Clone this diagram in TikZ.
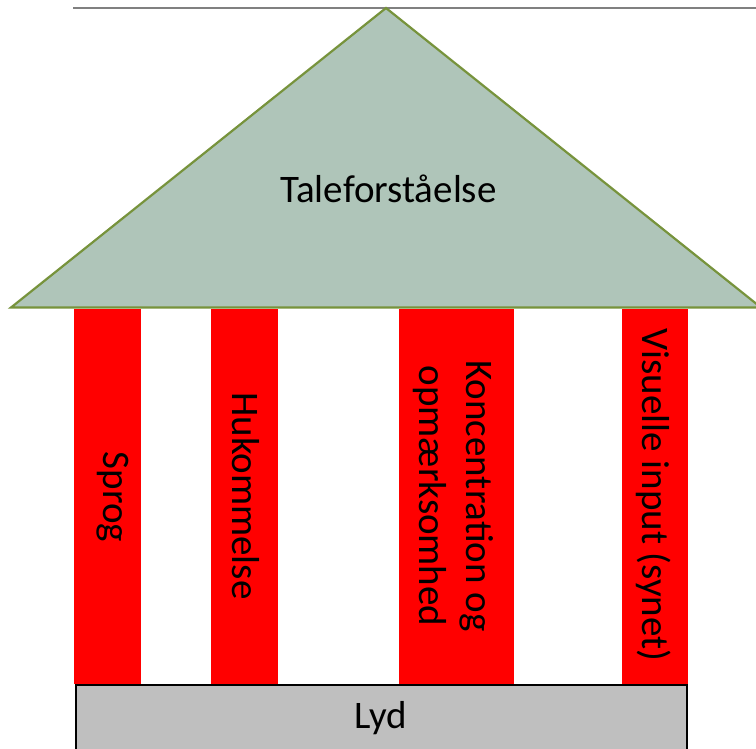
\documentclass[tikz,border=0pt]{standalone}
\usepackage{fontspec}
\setmainfont{Carlito}
\definecolor{roofgreen}{RGB}{175,197,185}
\definecolor{roofline}{RGB}{119,147,60}
\definecolor{pillarred}{RGB}{255,0,0}
\definecolor{basegray}{RGB}{191,191,191}
\definecolor{topline}{RGB}{128,128,128}
\begin{document}
\begin{tikzpicture}[x=1pt,y=-1pt,
  pillar/.style={fill=pillarred,draw=none},
  lbl/.style={font=\fontsize{39}{47}\selectfont,inner sep=0pt,text=black},
  vlbl/.style={lbl,rotate=-90,anchor=base}]
\useasboundingbox (0,0) rectangle (756,748);
\draw[topline,line width=1.2pt] (73,8) -- (756,8);
% pillars
\fill[pillar] (74,309) rectangle (140.5,684);
\fill[pillar] (211,309) rectangle (278,684);
\fill[pillar] (399,309) rectangle (513.5,684);
\fill[pillar] (621.5,309) rectangle (687.5,684);
% roof
\coordinate (apex) at (386,8);
\coordinate (bl) at (11,307.5);
\coordinate (br) at (761,307.5);
\filldraw[fill=roofgreen,draw=roofline,line width=2.2pt,line join=miter] (bl) -- (apex) -- (br) -- cycle;
% base
\filldraw[fill=basegray,draw=black,line width=2pt] (75.5,685) rectangle (686.5,760);
% labels
\node[lbl,anchor=base] (tf) at (388.5,202) {Taleforståelse};
\node[lbl,anchor=base] (lyd) at (381,728) {Lyd};
\node[vlbl] (sprog) at (103,497) {Sprog};
\node[vlbl] (huk) at (232,496) {Hukommelse};
\node[vlbl] (konc) at (466,496) {Koncentration og};
\node[vlbl] (opm) at (419,496) {opmærksomhed};
\node[vlbl] (vis) at (642,495) {Visuelle input (synet)};
\end{tikzpicture}
\end{document}
